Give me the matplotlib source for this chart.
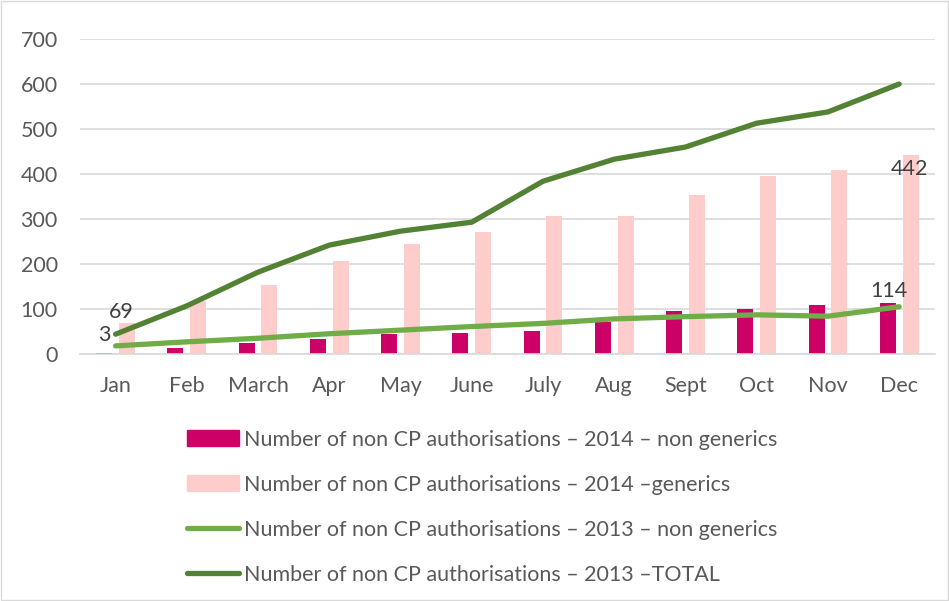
import numpy as np
import matplotlib
matplotlib.use("Agg")
import matplotlib.pyplot as plt
from matplotlib.patches import Rectangle

plt.rcParams['font.family'] = ['Lato', 'DejaVu Sans']

months = ['Jan', 'Feb', 'March', 'Apr', 'May', 'June', 'July', 'Aug', 'Sept', 'Oct', 'Nov', 'Dec']
non_generics_2014 = [3, 13, 25, 33, 44, 47, 51, 72, 96, 101, 108, 114]
generics_2014 = [69, 118, 153, 207, 244, 271, 307, 307, 353, 396, 409, 442]
non_generics_2013 = [18, 27, 35, 45, 53, 61, 68, 78, 83, 87, 84, 105]
total_2013 = [44, 107, 182, 242, 273, 293, 384, 433, 460, 513, 538, 600]

labels = ['Number of non CP authorisations \u2013 2014 \u2013 non generics',
          'Number of non CP authorisations \u2013 2014 \u2013generics',
          'Number of non CP authorisations \u2013 2013 \u2013 non generics',
          'Number of non CP authorisations \u2013 2013 \u2013TOTAL']

c_dark = '#CC0066'
c_light = '#FFCCCC'
c_lgreen = '#70AD47'
c_dgreen = '#548235'
txt = '#595959'

fig = plt.figure(figsize=(9.49, 6.01), dpi=100)
ax = fig.add_axes([0.0843, 0.411, 0.9007, 0.524])

x = np.arange(len(months))
w = 0.225
ax.bar(x - 0.16, non_generics_2014, w, color=c_dark, zorder=2)
ax.bar(x + 0.16, generics_2014, w, color=c_light, zorder=2)
ax.plot(x, non_generics_2013, color=c_lgreen, lw=3.8, zorder=3, solid_capstyle='round')
ax.plot(x, total_2013, color=c_dgreen, lw=3.8, zorder=3, solid_capstyle='round')

# data labels
fs_lab = 15.5
ax.text(x[0] - 0.07, non_generics_2014[0] + 17, str(non_generics_2014[0]), ha='right', va='bottom',
        fontsize=fs_lab, color='#404040', zorder=4)
ax.text(x[0] + 0.08, generics_2014[0] + 3, str(generics_2014[0]), ha='center', va='bottom',
        fontsize=fs_lab, color='#404040', zorder=4)
ax.text(x[-1] - 0.14, non_generics_2014[-1] + 3, str(non_generics_2014[-1]), ha='center', va='bottom',
        fontsize=fs_lab, color='#404040', zorder=4)
ax.text(x[-1] + 0.14, generics_2014[-1] - 31, str(generics_2014[-1]), ha='center', va='center',
        fontsize=fs_lab, color='#404040', zorder=4)

ax.set_xlim(-0.5, 11.5)
ax.set_ylim(0, 700)
ax.set_yticks(range(0, 701, 100))
ax.set_xticks(x)
ax.set_xticklabels(months)
ax.tick_params(length=0, labelsize=15.5, colors=txt, pad=16)
ax.tick_params(axis='y', pad=16)
ax.grid(axis='y', color='#D9D9D9', lw=1.2, zorder=0)
ax.set_axisbelow(True)
for s in ['top', 'right', 'left']:
    ax.spines[s].set_visible(False)
ax.spines['bottom'].set_color('#D9D9D9')
ax.spines['bottom'].set_linewidth(1.2)

# legend
h1 = Rectangle((0, 0), 1, 1, color=c_dark)
h2 = Rectangle((0, 0), 1, 1, color=c_light)
h3 = plt.Line2D([], [], color=c_lgreen, lw=3.8, solid_capstyle='round')
h4 = plt.Line2D([], [], color=c_dgreen, lw=3.8, solid_capstyle='round')
leg = fig.legend([h1, h2, h3, h4], labels, loc='upper left', bbox_to_anchor=(0.197, 0.285),
                 frameon=False, fontsize=15.5, labelcolor=txt, handlelength=2.4, handleheight=0.75,
                 handletextpad=0.25, labelspacing=1.16, borderaxespad=0, borderpad=0)

fig.patches.append(Rectangle((0.001, 0.001), 0.998, 0.998, transform=fig.transFigure,
                             fill=False, edgecolor='#D9D9D9', lw=1))

fig.savefig('out.png', dpi=100)
